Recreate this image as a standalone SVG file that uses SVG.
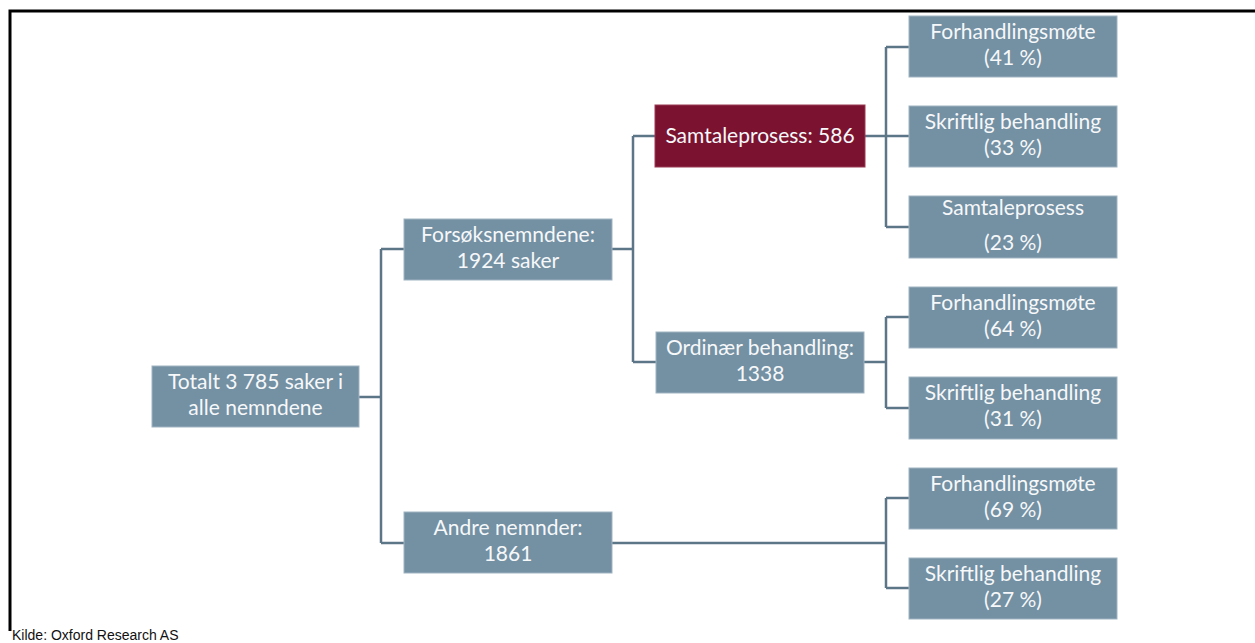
<svg xmlns="http://www.w3.org/2000/svg" width="1255" height="643" viewBox="0 0 1255 643">
<style>
.box{fill:#7490a3;stroke:#9fb3c2;stroke-width:1}
.red{fill:#7b1230;stroke:#9a3b55;stroke-width:1}
.t{font-family:Lato,"Open Sans",sans-serif;font-size:21px;fill:#f6f8fa;text-anchor:middle}
.c{fill:none;stroke:#5c7687;stroke-width:2.5}
</style>
<rect width="1255" height="643" fill="#ffffff"/>
<path d="M10 631 V11 H1255" fill="none" stroke="#000" stroke-width="3"/>
<g id="connectors">
<path class="c" d="M359 397 H381 M381 249 V543 M381 249 H404 M381 543 H404"/>
<path class="c" d="M612 249 H633 M633 136 V362 M633 136 H655 M633 362 H656"/>
<path class="c" d="M865 136 H886 M886 47 V227 M886 47 H909 M886 136 H909 M886 227 H909"/>
<path class="c" d="M864 362 H886 M886 317 V408 M886 317 H909 M886 408 H909"/>
<path class="c" d="M612 543 H886 M886 498 V588 M886 498 H909 M886 588 H909"/>
</g>
<g id="root"><rect class="box" x="152" y="366" width="207" height="61"/>
<text class="t" x="255.5" y="389">Totalt 3 785 saker i</text><text class="t" x="255.5" y="415">alle nemndene</text></g>
<g id="forsok"><rect class="box" x="404" y="219" width="208" height="61"/>
<text class="t" x="508" y="242">Forsøksnemndene:</text><text class="t" x="508" y="268">1924 saker</text></g>
<g id="andre"><rect class="box" x="404" y="512" width="208" height="61"/>
<text class="t" x="508" y="535">Andre nemnder:</text><text class="t" x="508" y="561">1861</text></g>
<g id="samtale"><rect class="red" x="655" y="105" width="210" height="62"/>
<text class="t" x="760" y="143">Samtaleprosess: 586</text></g>
<g id="ordinaer"><rect class="box" x="656" y="332" width="208" height="61"/>
<text class="t" x="760" y="355">Ordinær behandling:</text><text class="t" x="760" y="381">1338</text></g>
<g id="s1"><rect class="box" x="909" y="16" width="208" height="61"/>
<text class="t" x="1013" y="39">Forhandlingsmøte</text><text class="t" x="1013" y="65">(41 %)</text></g>
<g id="s2"><rect class="box" x="909" y="106" width="208" height="61"/>
<text class="t" x="1013" y="129">Skriftlig behandling</text><text class="t" x="1013" y="155">(33 %)</text></g>
<g id="s3"><rect class="box" x="909" y="196" width="208" height="62"/>
<text class="t" x="1013" y="215">Samtaleprosess</text><text class="t" x="1013" y="250">(23 %)</text></g>
<g id="o1"><rect class="box" x="909" y="287" width="208" height="61"/>
<text class="t" x="1013" y="310">Forhandlingsmøte</text><text class="t" x="1013" y="336">(64 %)</text></g>
<g id="o2"><rect class="box" x="909" y="377" width="208" height="62"/>
<text class="t" x="1013" y="400">Skriftlig behandling</text><text class="t" x="1013" y="426">(31 %)</text></g>
<g id="a1"><rect class="box" x="909" y="468" width="208" height="61"/>
<text class="t" x="1013" y="491">Forhandlingsmøte</text><text class="t" x="1013" y="517">(69 %)</text></g>
<g id="a2"><rect class="box" x="909" y="558" width="208" height="61"/>
<text class="t" x="1013" y="581">Skriftlig behandling</text><text class="t" x="1013" y="607">(27 %)</text></g>
<text x="12" y="640" font-family="Liberation Sans,Arial,sans-serif" font-size="14" fill="#111">Kilde: Oxford Research AS</text>
</svg>
